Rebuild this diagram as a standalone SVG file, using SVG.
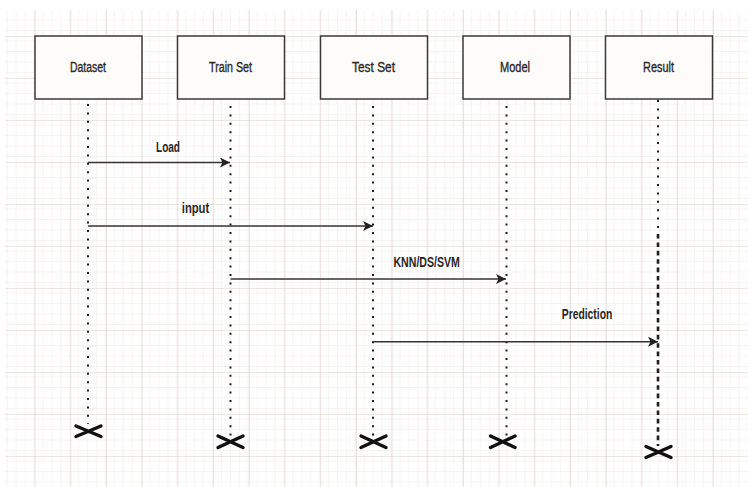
<svg xmlns="http://www.w3.org/2000/svg" width="748" height="487" viewBox="0 0 748 487">
  <style>
    .box { fill: #fdfcfa; stroke: #3a3a3a; stroke-width: 1.5; }
    .lbl { font-family: "Liberation Sans", Arial, sans-serif; font-size: 14px; fill: #2e2a28; stroke: #2e2a28; stroke-width: 0.35; text-anchor: middle; }
    .msg { font-family: "Liberation Sans", Arial, sans-serif; font-size: 14px; font-weight: bold; fill: #2a2624; text-anchor: middle; }
    .life { stroke: #1e1e1e; stroke-width: 2; stroke-dasharray: 2 6.4; fill: none; }
    .life-dash { stroke: #1e1e1e; stroke-width: 2.6; stroke-dasharray: 4.6 3.8; fill: none; }
    .arrow { stroke: #333; stroke-width: 1.5; fill: none; marker-end: url(#head); }
    .end { stroke: #111; stroke-width: 3.4; stroke-linecap: round; fill: none; }
  </style>
  <defs>
    <pattern id="minor" patternUnits="userSpaceOnUse" x="34.6" y="36" width="8.925" height="10.5">
      <path d="M0 0 V10.5 M0 0 H8.925" stroke="#efe8e6" stroke-width="1" fill="none"/>
    </pattern>
    <pattern id="major" patternUnits="userSpaceOnUse" x="34.6" y="36" width="35.7" height="42">
      <rect width="35.7" height="42" fill="url(#minor)"/>
      <path d="M0 0 V42 M0 0 H35.7" stroke="#dcd0cb" stroke-width="1.2" fill="none"/>
    </pattern>
    <marker id="head" markerUnits="userSpaceOnUse" markerWidth="12" markerHeight="12" refX="10" refY="5" orient="auto">
      <path d="M0 0 L10 5 L0 10 L2.5 5 Z" fill="#222"/>
    </marker>
  </defs>

  <!-- page background and grid -->
  <rect width="748" height="487" fill="#ffffff"/>
  <rect x="5" y="10" width="743" height="477" fill="url(#major)"/>

  <!-- participants -->
  <g id="dataset">
    <rect class="box" x="35" y="36" width="107" height="63"/>
    <text class="lbl" x="88" y="71.5" textLength="36" lengthAdjust="spacingAndGlyphs">Dataset</text>
  </g>
  <g id="train-set">
    <rect class="box" x="177.5" y="36" width="107" height="63"/>
    <text class="lbl" x="230.5" y="71.5" textLength="43" lengthAdjust="spacingAndGlyphs">Train Set</text>
  </g>
  <g id="test-set">
    <rect class="box" x="320.5" y="36" width="107" height="63"/>
    <text class="lbl" x="373.5" y="71.5" textLength="43" lengthAdjust="spacingAndGlyphs">Test Set</text>
  </g>
  <g id="model">
    <rect class="box" x="463" y="36" width="107" height="63"/>
    <text class="lbl" x="515" y="71.5" textLength="30" lengthAdjust="spacingAndGlyphs">Model</text>
  </g>
  <g id="result">
    <rect class="box" x="605.5" y="36" width="107" height="63"/>
    <text class="lbl" x="658.5" y="71.5" textLength="31" lengthAdjust="spacingAndGlyphs">Result</text>
  </g>

  <!-- lifelines, messages and destruction marks -->
  <g id="connectors">
    <line class="life" x1="88" y1="104" x2="88" y2="424"/>
    <line class="life" x1="230.5" y1="106" x2="230.5" y2="436"/>
    <line class="life" x1="373" y1="106" x2="373" y2="436"/>
    <line class="life" x1="506.5" y1="106" x2="506.5" y2="436"/>
    <line class="life" x1="658" y1="100" x2="658" y2="232"/>
    <line class="life-dash" x1="658" y1="234" x2="658" y2="446"/>

    <line class="arrow" x1="88" y1="162.5" x2="230" y2="162.5"/>
    <text class="msg" x="168" y="151.5" textLength="24" lengthAdjust="spacingAndGlyphs">Load</text>

    <line class="arrow" x1="88" y1="226" x2="373" y2="226"/>
    <text class="msg" x="195.5" y="212.5" textLength="27.5" lengthAdjust="spacingAndGlyphs">input</text>

    <line class="arrow" x1="230.5" y1="279" x2="506" y2="279"/>
    <text class="msg" x="426.7" y="266.5" textLength="66.5" lengthAdjust="spacingAndGlyphs">KNN/DS/SVM</text>

    <line class="arrow" x1="373" y1="341.7" x2="658" y2="341.7"/>
    <text class="msg" x="587" y="319.3" textLength="50.5" lengthAdjust="spacingAndGlyphs">Prediction</text>

    <path class="end" d="M76 426 L101 436.5 M76 436.5 L101 426"/>
    <path class="end" d="M218 436 L243 447.5 M218 447.5 L243 436"/>
    <path class="end" d="M361 436 L386 447.5 M361 447.5 L386 436"/>
    <path class="end" d="M490.5 436 L515 447.5 M490.5 447.5 L515 436"/>
    <path class="end" d="M646 446.5 L671 457.5 M646 457.5 L671 446.5"/>
  </g>
</svg>
